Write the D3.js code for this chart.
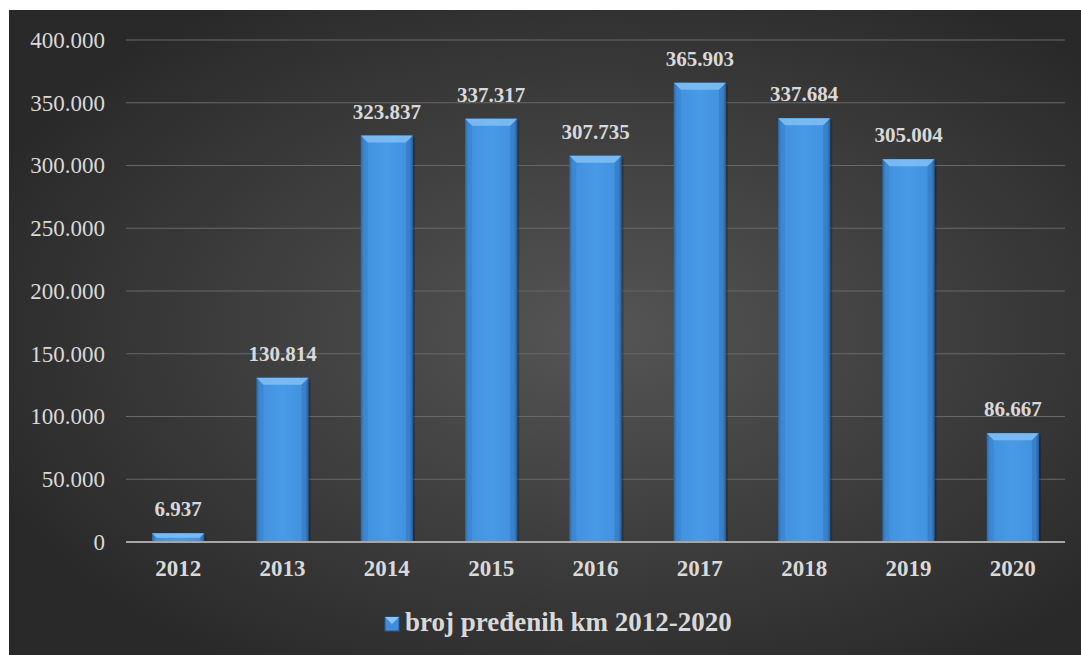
<!DOCTYPE html>
<html><head><meta charset="utf-8">
<script src="https://cdn.jsdelivr.net/npm/d3@7"></script>
<style>html,body{margin:0;padding:0;background:#fff;}svg{display:block;}</style>
</head><body>
<script>
const categories = ["2012","2013","2014","2015","2016","2017","2018","2019","2020"];
const values = [6937,130814,323837,337317,307735,365903,337684,305004,86667];
const labels = ["6.937","130.814","323.837","337.317","307.735","365.903","337.684","305.004","86.667"];
const yTicks = [0,50000,100000,150000,200000,250000,300000,350000,400000];
const seriesName = "broj pređenih km 2012-2020";

const W = 1081, H = 655;
const FONT = "'Liberation Serif', 'Times New Roman', serif";
const svg = d3.select("body").append("svg").attr("width", W).attr("height", H);
const defs = svg.append("defs");
const bg = defs.append("radialGradient").attr("id","bg").attr("cx","55%").attr("cy","50%").attr("r","62%");
bg.append("stop").attr("offset","0%").attr("stop-color","#555555");
bg.append("stop").attr("offset","100%").attr("stop-color","#292929");
const bar = defs.append("linearGradient").attr("id","bar").attr("x1","0").attr("x2","1").attr("y1","0").attr("y2","0");
bar.append("stop").attr("offset","0%").attr("stop-color","#2c68a8");
bar.append("stop").attr("offset","6%").attr("stop-color","#4191de");
bar.append("stop").attr("offset","50%").attr("stop-color","#489ae6");
bar.append("stop").attr("offset","94%").attr("stop-color","#4191de");
bar.append("stop").attr("offset","100%").attr("stop-color","#275f9c");

svg.append("rect").attr("x",9).attr("y",10).attr("width",W-9).attr("height",H-10).attr("fill","url(#bg)");

const x = d3.scaleBand().domain(categories).range([126,1065]).paddingInner(0.5).paddingOuter(0.25);
const y = d3.scaleLinear().domain([0,400000]).range([542,40]);

// grid
svg.append("g").selectAll("line").data(yTicks.filter(d=>d>0)).join("line")
  .attr("x1",126).attr("x2",1065).attr("y1",d=>y(d)).attr("y2",d=>y(d))
  .attr("stroke","#686868").attr("stroke-width",1);

// y axis
const ya = svg.append("g").attr("transform","translate(126,0)")
  .call(d3.axisLeft(y).tickValues(yTicks).tickSize(0).tickPadding(21)
    .tickFormat(d=>d===0?"0":d3.format(",")(d).replace(/,/g,".")));
ya.select(".domain").remove();
ya.selectAll("text").attr("fill","#d9d9d9").attr("font-family",FONT).attr("font-size",23);

// bars
const g = svg.append("g");
const bw = x.bandwidth();
categories.forEach((c,i)=>{
  const x0 = x(c), y0 = y(values[i]), h = y(0)-y0;
  g.append("rect").attr("x",x0+2).attr("y",y0+2).attr("width",bw).attr("height",h-2).attr("fill","rgba(0,0,0,0.22)");
  g.append("rect").attr("x",x0).attr("y",y0).attr("width",bw).attr("height",h).attr("fill","url(#bar)");
  const b = Math.min(7, h/2);
  g.append("polygon").attr("points",`${x0},${y0} ${x0+bw},${y0} ${x0+bw-b},${y0+b} ${x0+b},${y0+b}`).attr("fill","#7fbdf2").attr("opacity",0.9);
  g.append("polygon").attr("points",`${x0},${y0} ${x0+b},${y0+b} ${x0+b},${y0+h} ${x0},${y0+h}`).attr("fill","#2c6aad").attr("opacity",0.25);
  g.append("polygon").attr("points",`${x0+bw},${y0} ${x0+bw-b},${y0+b} ${x0+bw-b},${y0+h} ${x0+bw},${y0+h}`).attr("fill","#24589a").attr("opacity",0.3);
  g.append("text").attr("x",x0+bw/2).attr("y",y0-17).attr("text-anchor","middle")
    .attr("fill","#d9d9d9").attr("font-family",FONT).attr("font-weight","bold").attr("font-size",21)
    .text(labels[i]);
});

// baseline
svg.append("line").attr("x1",126).attr("x2",1065).attr("y1",y(0)).attr("y2",y(0)).attr("stroke","#a6a6a6").attr("stroke-width",2);

// x axis
const xa = svg.append("g").attr("transform",`translate(0,${y(0)})`)
  .call(d3.axisBottom(x).tickSize(0).tickPadding(18));
xa.select(".domain").remove();
xa.selectAll("text").attr("fill","#d9d9d9").attr("font-family",FONT).attr("font-weight","bold").attr("font-size",23);

// legend
const lg = svg.append("g").attr("transform","translate(385,617)");
lg.append("rect").attr("width",14).attr("height",14).attr("fill","#3f8ddb").attr("stroke","#24589a").attr("stroke-width",1);
lg.append("polygon").attr("points","0,0 14,0 7,7").attr("fill","#8cc5f5");
lg.append("text").attr("x",20).attr("y",14).attr("fill","#d9d9d9").attr("font-family",FONT)
  .attr("font-weight","bold").attr("font-size",27).text(seriesName);
</script>
</body></html>
